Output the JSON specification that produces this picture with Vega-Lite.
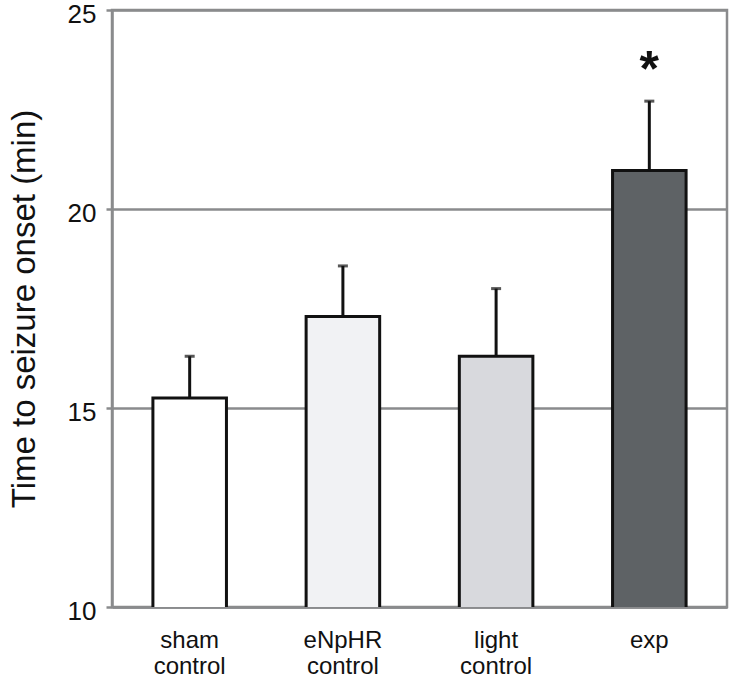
{
  "$schema": "https://vega.github.io/schema/vega-lite/v6.json",
  "autosize": "none",
  "width": 615,
  "height": 597,
  "padding": {"left": 112, "top": 10, "right": 8, "bottom": 75},
  "background": "white",
  "config": {
    "font": "Liberation Sans",
    "view": {"stroke": "#8a8b8d", "strokeWidth": 2.5},
    "axisY": {
      "titleFontSize": 33,
      "titleFontWeight": "normal",
      "titleColor": "#111",
      "titlePadding": 26,
      "labelFontSize": 26,
      "labelColor": "#111",
      "labelPadding": 10,
      "labelOffset": 4,
      "tickSize": 6,
      "tickWidth": 2.5,
      "tickColor": "#8a8b8d",
      "domainColor": "#8a8b8d",
      "domainWidth": 2.5,
      "grid": true,
      "gridColor": "#8a8b8d",
      "gridWidth": 2.5,
      "gridOpacity": 1
    },
    "axisX": {
      "labelAngle": 0,
      "labelFontSize": 24,
      "labelColor": "#111",
      "labelLineHeight": 26,
      "labelBaseline": "top",
      "labelPadding": 21,
      "ticks": false,
      "domainColor": "#8a8b8d",
      "domainWidth": 2.5
    }
  },
  "data": {
    "values": [
      {"group": "sham control", "mean": 15.25, "upper": 16.3, "sig": ""},
      {"group": "eNpHR control", "mean": 17.3, "upper": 18.57, "sig": ""},
      {"group": "light control", "mean": 16.3, "upper": 18.0, "sig": ""},
      {"group": "exp", "mean": 20.97, "upper": 22.71, "sig": "*"}
    ]
  },
  "encoding": {
    "x": {
      "field": "group",
      "type": "nominal",
      "sort": null,
      "scale": {"paddingInner": 0.52, "paddingOuter": 0.267},
      "axis": {
        "title": null,
        "labelExpr": "split(datum.value, ' ')"
      }
    }
  },
  "layer": [
    {
      "mark": {"type": "bar", "stroke": "#111", "strokeWidth": 3, "clip": true},
      "encoding": {
        "y": {
          "field": "mean",
          "type": "quantitative",
          "scale": {"domain": [10, 25], "zero": false, "nice": false},
          "axis": {
            "values": [10, 15, 20, 25],
            "title": "Time to seizure onset (min)"
          }
        },
        "fill": {
          "field": "group",
          "type": "nominal",
          "scale": {
            "domain": ["sham control", "eNpHR control", "light control", "exp"],
            "range": ["#ffffff", "#f1f2f4", "#d8d9dd", "#5e6265"]
          },
          "legend": null
        }
      }
    },
    {
      "mark": {"type": "rule", "color": "#111", "strokeWidth": 3},
      "encoding": {
        "y": {"field": "mean", "type": "quantitative"},
        "y2": {"field": "upper"}
      }
    },
    {
      "mark": {"type": "tick", "color": "#111", "size": 10, "thickness": 3},
      "encoding": {
        "y": {"field": "upper", "type": "quantitative"}
      }
    },
    {
      "mark": {"type": "text", "fontSize": 50, "fontWeight": "bold", "color": "#111", "baseline": "alphabetic", "dy": -15},
      "encoding": {
        "y": {"field": "upper", "type": "quantitative"},
        "text": {"field": "sig"}
      }
    }
  ]
}
